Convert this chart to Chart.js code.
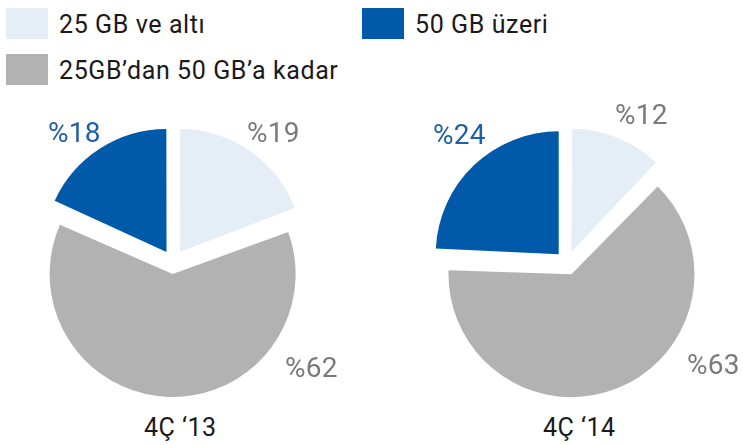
<!DOCTYPE html>
<html>
<head>
<meta charset="utf-8">
<script src="https://cdn.jsdelivr.net/npm/chart.js@4/dist/chart.umd.min.js"></script>
<style>
  body { margin: 0; background: #fff; font-family: Roboto, sans-serif; }
  #page { position: relative; width: 755px; height: 445px; overflow: hidden; }
  .box { position: absolute; width: 42px; height: 31px; }
  .txt { position: absolute; line-height: 1; white-space: nowrap; }
  .leg { font-size: 25px; color: #1a1a1a; letter-spacing: 0.6px; }
  .pct { font-size: 28px; letter-spacing: 0.2px; }
  .qtr { font-size: 25px; color: #1a1a1a; letter-spacing: 0.5px; }
  canvas { position: absolute; }
</style>
</head>
<body>
<div id="page">
  <canvas id="pie13" width="280" height="280" style="left:33px;top:122px"></canvas>
  <canvas id="pie14" width="280" height="280" style="left:427px;top:123px"></canvas>
</div>
<script>
// Data
const categories = ['25 GB ve altı', '25GB’dan 50 GB’a kadar', '50 GB üzeri'];
const quarters = ['4Ç ‘13', '4Ç ‘14'];
const under25 = [19, 12];
const from25to50 = [62, 63];
const over50 = [18, 24];

const colors = ['#e5edf7', '#b2b2b2', '#0059a9'];
const labelColors = ['#7a7a7a', '#7a7a7a', '#1f5fa8'];

const page = document.getElementById('page');

function addText(cls, text, left, top, color) {
  let d = document.createElement('div');
  d.className = 'txt ' + cls;
  d.textContent = text;
  d.style.left = left + 'px';
  d.style.top = top + 'px';
  if (color) d.style.color = color;
  page.appendChild(d);
}

function addBox(color, left, top) {
  let b = document.createElement('div');
  b.className = 'box';
  b.style.background = color;
  b.style.left = left + 'px';
  b.style.top = top + 'px';
  page.appendChild(b);
}

// Legend (light, gray on the left column, blue on the right)
const legendPos = [[6, 8], [6, 54], [362, 8]];
categories.forEach((c, i) => {
  addBox(colors[i], legendPos[i][0], legendPos[i][1]);
  addText('leg', c, legendPos[i][0] + 53, legendPos[i][1] + 4);
});

// Chart.js grows big slices by offset/4 - keep every slice the same radius
const keepRadius = {
  id: 'keepRadius',
  afterDatasetsUpdate(chart) {
    chart.getDatasetMeta(0).data.forEach(arc => {
      const fix = 1 - Math.sin(Math.min(Math.PI, arc.circumference));
      arc.outerRadius -= ((arc.options.offset || 0) / 4) * fix;
    });
  }
};

function makePie(id, idx) {
  return new Chart(document.getElementById(id), {
    type: 'pie',
    data: {
      labels: categories,
      datasets: [{
        data: [under25[idx], from25to50[idx], over50[idx]],
        backgroundColor: colors,
        borderWidth: 0,
        offset: 48
      }]
    },
    options: {
      responsive: false,
      animation: false,
      radius: 123,
      plugins: { legend: { display: false }, tooltip: { enabled: false } }
    },
    plugins: [keepRadius]
  });
}

makePie('pie13', 0);
makePie('pie14', 1);

// Percent labels around the pies
const pctPos = [
  [[247, 119], [285, 354], [48, 119]],
  [[615, 101], [687, 351], [433, 121]]
];
const series = [under25, from25to50, over50];
quarters.forEach((q, qi) => {
  series.forEach((s, si) => {
    addText('pct', '%' + s[qi], pctPos[qi][si][0], pctPos[qi][si][1], labelColors[si]);
  });
});

// Quarter labels
const qtrPos = [[144, 415], [543, 415]];
quarters.forEach((q, i) => addText('qtr', q, qtrPos[i][0], qtrPos[i][1]));
</script>
</body>
</html>
